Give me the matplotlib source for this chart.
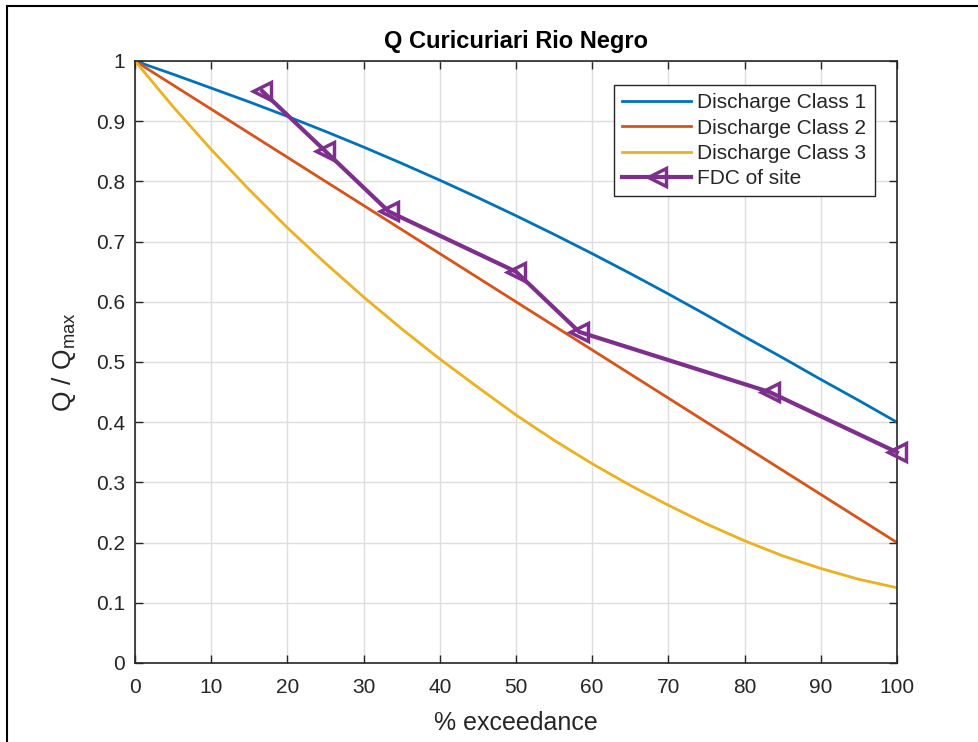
import matplotlib
matplotlib.use("Agg")
import matplotlib.pyplot as plt
from matplotlib.patches import Rectangle

plt.rcParams['font.family'] = ['Liberation Sans', 'DejaVu Sans']
plt.rcParams['mathtext.fontset'] = 'custom'
plt.rcParams['mathtext.rm'] = 'Liberation Sans'

# exceedance grid for the class curves (%)
exceedance = [0, 5, 10, 15, 20, 25, 30, 35, 40, 45, 50,
              55, 60, 65, 70, 75, 80, 85, 90, 95, 100]
class1 = [1.0, 0.978, 0.955, 0.932, 0.908, 0.883, 0.857, 0.830, 0.802, 0.773, 0.743,
          0.712, 0.680, 0.647, 0.613, 0.578, 0.542, 0.507, 0.471, 0.436, 0.40]
class2 = [1.0, 0.96, 0.92, 0.88, 0.84, 0.80, 0.76, 0.72, 0.68, 0.64, 0.60,
          0.56, 0.52, 0.48, 0.44, 0.40, 0.36, 0.32, 0.28, 0.24, 0.20]
class3 = [1.0, 0.924, 0.853, 0.786, 0.723, 0.664, 0.608, 0.555, 0.505, 0.458, 0.412,
          0.370, 0.331, 0.295, 0.262, 0.231, 0.203, 0.178, 0.157, 0.139, 0.125]

# flow duration curve of the site
fdc_x = [16.7, 25.0, 33.3, 50.0, 58.3, 83.3, 100.0]
fdc_y = [0.95, 0.85, 0.75, 0.65, 0.55, 0.45, 0.35]

labels = ["Discharge Class 1", "Discharge Class 2", "Discharge Class 3", "FDC of site"]
colors = ["#0072BD", "#D95319", "#EDB120", "#7E2F8E"]
axcol = "#262626"

fig = plt.figure(figsize=(9.79, 7.42), dpi=100)
ax = fig.add_axes([0.1379, 0.1065, 0.7783, 0.8113])

ax.plot(exceedance, class1, color=colors[0], lw=2, label=labels[0])
ax.plot(exceedance, class2, color=colors[1], lw=2, label=labels[1])
ax.plot(exceedance, class3, color=colors[2], lw=2, label=labels[2])
ax.plot(fdc_x, fdc_y, color=colors[3], lw=3, marker='<', ms=13,
        mfc='none', mew=2.5, label=labels[3], clip_on=False, zorder=5)

ax.set_xlim(0, 100)
ax.set_ylim(0, 1)
ax.set_xticks(range(0, 101, 10))
ax.set_yticks([i / 10 for i in range(11)])
ax.set_yticklabels(["0", "0.1", "0.2", "0.3", "0.4", "0.5", "0.6", "0.7", "0.8", "0.9", "1"])
ax.tick_params(direction='in', top=True, right=True, labelsize=15,
               colors=axcol, length=6, width=1)
ax.tick_params(axis='x', pad=11)
ax.tick_params(axis='y', pad=7)
ax.grid(True, color='#dedede', lw=1)
ax.set_axisbelow(True)
for s in ax.spines.values():
    s.set_color(axcol)
    s.set_linewidth(1.2)

ax.set_title("Q Curicuriari Rio Negro", fontsize=17, fontweight='bold', color='black', pad=9)
ax.set_xlabel("% exceedance", fontsize=18, color=axcol, labelpad=10)
ax.set_ylabel(r"Q / Q$_{\mathrm{max}}$", fontsize=19, color=axcol, labelpad=13)

leg = ax.legend(loc='upper right', bbox_to_anchor=(0.971, 0.960), borderaxespad=0,
                fontsize=15, fancybox=False, framealpha=1, edgecolor=axcol,
                handlelength=3.3, handletextpad=0.3, borderpad=0.4,
                labelspacing=0.3)
leg.get_frame().set_linewidth(1)
for t in leg.get_texts():
    t.set_color(axcol)

# thin outer frame of the figure window
fig.patches.append(Rectangle((7 / 979, -0.02), 1.0, 1 - 6 / 742 + 0.02,
                             transform=fig.transFigure, fill=False,
                             edgecolor='black', lw=1.5))

fig.savefig("out.png", dpi=100)
